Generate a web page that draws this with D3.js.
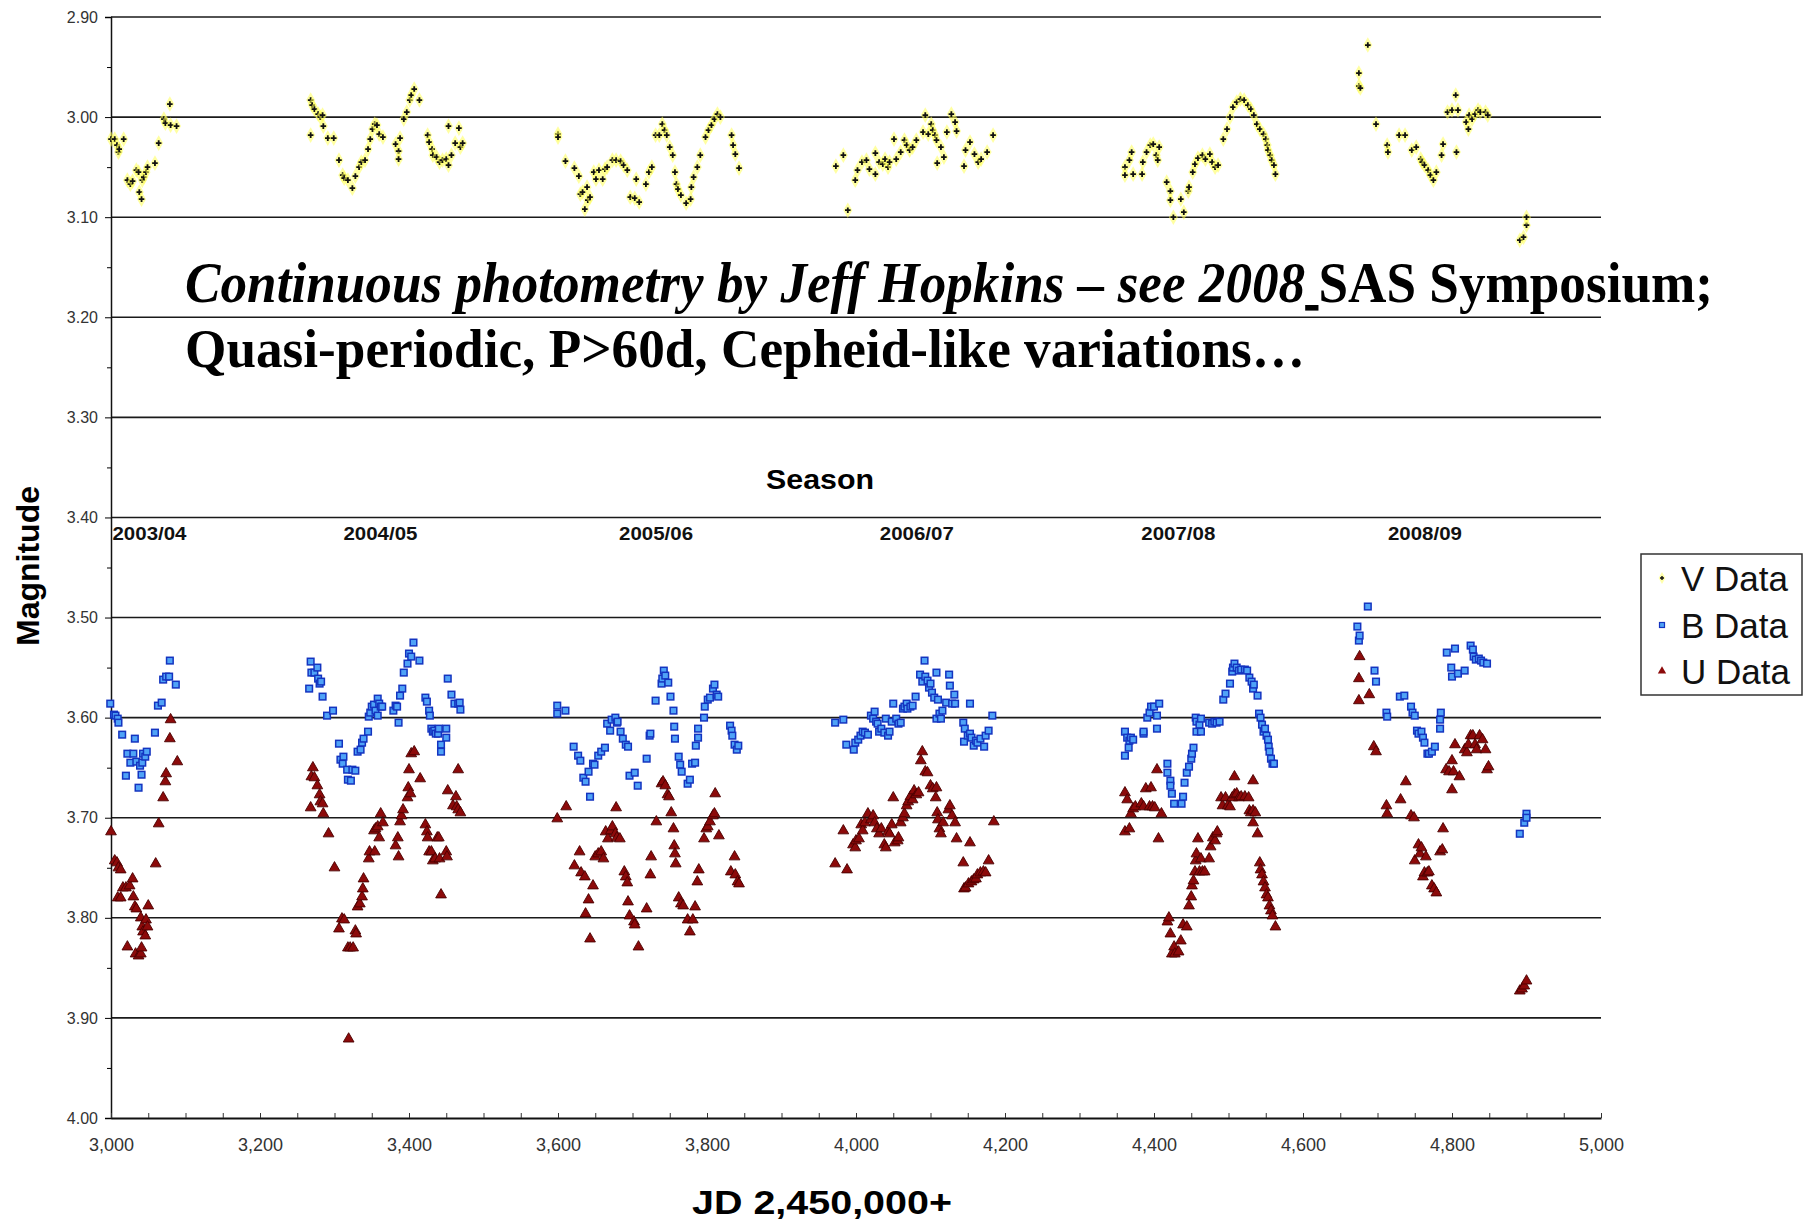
<!DOCTYPE html>
<html>
<head>
<meta charset="utf-8">
<script src="https://cdn.jsdelivr.net/npm/d3@7"></script>
<style>
  body { margin: 0; background: #fff; }
  svg { display: block; }
  .tick text { fill: #333; }
</style>
</head>
<body>
<div class="container"></div>
<script>
// V, B, U photometry: [JD - 2,450,000, magnitude]
const vData = [
  [3000,3.022],[3005,3.022],[3008,3.028],[3010,3.035],[3011,3.032],[3017,3.022],[3022,3.063],[3026,3.067],[3029,3.064],[3034,3.053],[3037,3.055],[3038,3.075],[3041,3.082],[3042,3.063],[3044,3.060],[3047,3.055],[3049,3.050],[3059,3.046],[3064,3.026],[3071,3.002],[3073,3.006],[3079,2.987],[3080,3.008],[3088,3.009],
  [3268,2.983],[3268,3.018],[3270,2.988],[3273,2.992],[3278,2.997],[3281,3.000],[3284,2.998],[3285,3.009],[3291,3.021],[3299,3.021],[3306,3.043],[3311,3.058],[3313,3.061],[3318,3.063],[3324,3.071],[3328,3.059],[3333,3.050],[3336,3.045],[3341,3.043],[3345,3.032],[3348,3.022],[3351,3.012],[3354,3.007],[3357,3.008],[3360,3.017],[3365,3.020],[3382,3.027],[3386,3.034],[3386,3.042],[3388,3.021],[3393,3.002],[3397,2.995],[3401,2.983],[3403,2.978],[3407,2.972],[3414,2.983],[3425,3.018],[3427,3.025],[3431,3.032],[3432,3.038],[3437,3.040],[3441,3.045],[3445,3.043],[3450,3.042],[3453,3.048],[3453,3.009],[3457,3.038],[3462,3.026],[3467,3.011],[3469,3.030],[3472,3.026],
  [3600,3.017],[3600,3.020],[3610,3.044],[3622,3.051],[3628,3.059],[3630,3.077],[3633,3.075],[3636,3.092],[3639,3.070],[3640,3.083],[3643,3.080],[3648,3.055],[3651,3.062],[3655,3.053],[3660,3.062],[3663,3.052],[3666,3.050],[3673,3.043],[3678,3.043],[3684,3.044],[3688,3.048],[3693,3.053],[3697,3.080],[3703,3.081],[3705,3.062],[3709,3.085],[3718,3.067],[3722,3.055],[3726,3.050],[3731,3.018],[3736,3.018],[3740,3.007],[3743,3.013],[3746,3.018],[3750,3.030],[3754,3.038],[3757,3.055],[3759,3.067],[3761,3.072],[3765,3.078],[3772,3.086],[3778,3.082],[3779,3.070],[3782,3.060],[3787,3.050],[3791,3.038],[3798,3.020],[3802,3.013],[3806,3.008],[3810,3.002],[3814,2.997],[3818,3.000],[3833,3.018],[3835,3.028],[3838,3.037],[3843,3.051],
  [3973,3.049],[3983,3.038],[3989,3.093],[3999,3.063],[4002,3.053],[4008,3.045],[4014,3.043],[4018,3.052],[4026,3.036],[4026,3.057],[4031,3.045],[4036,3.047],[4039,3.042],[4043,3.050],[4045,3.045],[4051,3.022],[4054,3.042],[4060,3.035],[4065,3.023],[4068,3.028],[4072,3.033],[4076,3.030],[4081,3.023],[4090,3.015],[4093,2.998],[4097,3.017],[4101,3.007],[4103,3.013],[4106,3.018],[4108,3.023],[4109,3.046],[4114,3.030],[4118,3.040],[4122,3.015],[4128,2.997],[4133,3.005],[4135,3.014],[4145,3.049],[4147,3.033],[4153,3.025],[4159,3.037],[4164,3.045],[4168,3.042],[4176,3.035],[4184,3.018],
  [4361,3.050],[4361,3.058],[4367,3.043],[4370,3.035],[4372,3.057],[4384,3.057],[4385,3.045],[4390,3.035],[4395,3.028],[4399,3.027],[4403,3.038],[4405,3.043],[4407,3.030],[4417,3.065],[4422,3.074],[4422,3.083],[4426,3.100],[4436,3.082],[4440,3.095],[4446,3.074],[4447,3.070],[4452,3.055],[4455,3.047],[4459,3.041],[4465,3.038],[4469,3.042],[4475,3.037],[4478,3.045],[4482,3.050],[4486,3.048],[4493,3.022],[4498,3.012],[4502,3.000],[4506,2.990],[4511,2.985],[4516,2.982],[4521,2.983],[4526,2.988],[4530,2.992],[4534,2.998],[4538,3.007],[4542,3.012],[4547,3.017],[4550,3.022],[4552,3.028],[4553,3.033],[4556,3.038],[4558,3.043],[4561,3.048],[4563,3.057],
  [4675,2.956],[4675,2.969],[4677,2.971],[4687,2.928],[4698,3.007],[4713,3.028],[4714,3.035],[4729,3.018],[4737,3.018],[4746,3.033],[4752,3.030],[4758,3.042],[4760,3.045],[4763,3.048],[4768,3.053],[4771,3.058],[4775,3.063],[4779,3.055],[4786,3.038],[4788,3.027],[4794,2.995],[4800,2.993],[4805,2.978],[4806,3.035],[4808,2.993],[4819,3.005],[4822,3.012],[4823,2.998],[4827,3.002],[4831,2.997],[4835,2.993],[4838,2.995],[4845,2.995],[4848,2.998],[4891,3.123],[4896,3.120],[4900,3.108],[4900,3.100]
];

const bData = [
  [2999,3.586],[3004,3.597],[3006,3.598],[3009,3.601],[3010,3.605],[3015,3.617],[3020,3.658],[3022,3.636],[3026,3.645],[3030,3.636],[3032,3.621],[3034,3.644],[3037,3.670],[3039,3.648],[3041,3.657],[3042,3.645],[3043,3.636],[3046,3.639],[3048,3.634],[3059,3.615],[3063,3.588],[3068,3.585],[3070,3.562],[3074,3.559],[3078,3.559],[3079,3.543],[3087,3.567],
  [3266,3.571],[3268,3.544],[3269,3.555],[3273,3.555],[3277,3.550],[3278,3.561],[3280,3.566],[3282,3.564],[3284,3.579],[3290,3.598],[3298,3.593],[3306,3.626],[3308,3.642],[3311,3.646],[3312,3.639],[3317,3.652],[3318,3.662],[3322,3.663],[3324,3.652],[3328,3.653],[3331,3.634],[3335,3.632],[3337,3.625],[3339,3.621],[3345,3.614],[3346,3.599],[3348,3.595],[3350,3.589],[3353,3.587],[3355,3.593],[3358,3.581],[3358,3.598],[3360,3.586],[3362,3.589],[3364,3.589],[3379,3.593],[3382,3.588],[3384,3.589],[3386,3.605],[3388,3.578],[3391,3.571],[3393,3.555],[3398,3.546],[3400,3.536],[3403,3.539],[3406,3.525],[3414,3.543],[3422,3.580],[3424,3.584],[3427,3.593],[3428,3.598],[3430,3.611],[3432,3.614],[3434,3.613],[3436,3.616],[3439,3.616],[3440,3.611],[3443,3.627],[3443,3.634],[3450,3.611],[3450,3.620],[3452,3.561],[3457,3.577],[3461,3.586],[3466,3.586],[3468,3.585],[3469,3.592],
  [3599,3.588],[3599,3.596],[3610,3.593],[3621,3.629],[3627,3.638],[3630,3.643],[3634,3.660],[3637,3.664],[3641,3.654],[3643,3.679],[3647,3.646],[3649,3.647],[3654,3.638],[3658,3.634],[3663,3.630],[3666,3.606],[3670,3.613],[3672,3.602],[3677,3.600],[3679,3.605],[3680,3.604],[3684,3.614],[3687,3.621],[3691,3.627],[3694,3.629],[3696,3.658],[3703,3.655],[3707,3.668],[3719,3.641],[3723,3.618],[3724,3.616],[3731,3.583],[3739,3.566],[3740,3.561],[3742,3.553],[3744,3.558],[3748,3.565],[3751,3.579],[3755,3.593],[3756,3.609],[3757,3.621],[3762,3.639],[3764,3.647],[3766,3.654],[3774,3.666],[3777,3.662],[3780,3.646],[3784,3.645],[3785,3.628],[3788,3.620],[3788,3.611],[3796,3.600],[3797,3.589],[3801,3.582],[3804,3.580],[3808,3.571],[3810,3.567],[3813,3.577],[3815,3.579],[3831,3.608],[3833,3.613],[3834,3.618],[3837,3.627],[3840,3.632],[3842,3.628],
  [3972,3.605],[3983,3.602],[3987,3.627],[3997,3.632],[3999,3.625],[4003,3.622],[4006,3.618],[4009,3.614],[4012,3.615],[4016,3.617],[4020,3.598],[4023,3.601],[4025,3.594],[4027,3.604],[4029,3.606],[4031,3.614],[4034,3.611],[4038,3.615],[4040,3.601],[4043,3.618],[4045,3.614],[4048,3.604],[4050,3.586],[4054,3.601],[4057,3.606],[4060,3.605],[4063,3.591],[4065,3.589],[4068,3.586],[4069,3.591],[4073,3.589],[4076,3.588],[4080,3.579],[4086,3.557],[4089,3.564],[4092,3.543],[4093,3.559],[4096,3.563],[4098,3.570],[4100,3.566],[4102,3.575],[4105,3.580],[4108,3.555],[4108,3.601],[4110,3.582],[4112,3.596],[4114,3.601],[4116,3.593],[4121,3.585],[4125,3.557],[4126,3.568],[4129,3.586],[4132,3.577],[4133,3.586],[4144,3.605],[4145,3.624],[4146,3.611],[4150,3.618],[4153,3.616],[4153,3.586],[4155,3.620],[4158,3.628],[4161,3.623],[4163,3.625],[4167,3.621],[4172,3.629],[4174,3.618],[4178,3.613],[4183,3.598],
  [4361,3.614],[4361,3.638],[4364,3.620],[4366,3.630],[4367,3.623],[4369,3.620],[4372,3.622],[4386,3.616],[4386,3.614],[4391,3.600],[4394,3.595],[4396,3.589],[4400,3.589],[4404,3.598],[4404,3.611],[4407,3.586],[4418,3.646],[4418,3.655],[4422,3.663],[4422,3.668],[4424,3.676],[4427,3.686],[4437,3.686],[4439,3.679],[4441,3.665],[4444,3.655],[4447,3.649],[4450,3.641],[4451,3.636],[4453,3.630],[4456,3.600],[4457,3.604],[4457,3.614],[4461,3.607],[4463,3.614],[4463,3.601],[4474,3.605],[4478,3.606],[4481,3.604],[4484,3.605],[4488,3.604],[4493,3.582],[4496,3.576],[4502,3.566],[4505,3.554],[4506,3.550],[4508,3.546],[4511,3.550],[4514,3.553],[4517,3.552],[4522,3.552],[4525,3.553],[4528,3.560],[4531,3.564],[4533,3.571],[4534,3.567],[4539,3.578],[4541,3.596],[4543,3.600],[4545,3.607],[4547,3.614],[4549,3.611],[4551,3.618],[4553,3.622],[4554,3.629],[4555,3.634],[4557,3.641],[4559,3.646],[4561,3.646],
  [4673,3.509],[4675,3.523],[4676,3.518],[4687,3.489],[4696,3.553],[4698,3.564],[4712,3.595],[4713,3.599],[4730,3.579],[4736,3.578],[4745,3.589],[4747,3.595],[4750,3.598],[4753,3.613],[4755,3.616],[4759,3.614],[4761,3.620],[4763,3.625],[4767,3.636],[4769,3.636],[4773,3.634],[4777,3.629],[4784,3.602],[4784,3.611],[4785,3.595],[4793,3.535],[4799,3.550],[4800,3.559],[4804,3.531],[4808,3.556],[4817,3.553],[4825,3.528],[4828,3.532],[4829,3.539],[4832,3.542],[4836,3.541],[4839,3.543],[4842,3.545],[4847,3.546],[4891,3.716],[4897,3.705],[4900,3.696],[4900,3.700]
];

const uData = [
  [3000,3.714],[3005,3.743],[3008,3.745],[3009,3.780],[3010,3.750],[3013,3.752],[3013,3.780],[3016,3.770],[3020,3.770],[3022,3.829],[3025,3.768],[3029,3.761],[3030,3.779],[3032,3.789],[3033,3.836],[3034,3.791],[3037,3.838],[3040,3.836],[3040,3.800],[3041,3.830],[3042,3.809],[3043,3.814],[3046,3.818],[3047,3.802],[3049,3.809],[3050,3.788],[3060,3.746],[3064,3.706],[3070,3.680],[3073,3.664],[3074,3.656],[3079,3.621],[3080,3.602],[3089,3.644],
  [3268,3.690],[3269,3.659],[3271,3.650],[3273,3.660],[3277,3.668],[3280,3.677],[3281,3.684],[3284,3.686],[3285,3.696],[3292,3.716],[3300,3.750],[3306,3.811],[3310,3.801],[3313,3.802],[3318,3.830],[3319,3.921],[3321,3.830],[3325,3.830],[3328,3.813],[3329,3.816],[3331,3.789],[3334,3.786],[3337,3.779],[3338,3.771],[3339,3.761],[3346,3.741],[3347,3.734],[3353,3.713],[3354,3.734],[3355,3.711],[3358,3.709],[3360,3.720],[3362,3.696],[3365,3.705],[3382,3.728],[3385,3.720],[3386,3.739],[3388,3.704],[3390,3.698],[3392,3.692],[3398,3.680],[3399,3.670],[3400,3.652],[3402,3.676],[3403,3.636],[3407,3.634],[3415,3.661],[3422,3.707],[3424,3.714],[3425,3.720],[3427,3.734],[3430,3.734],[3432,3.743],[3435,3.741],[3438,3.720],[3440,3.720],[3441,3.741],[3443,3.777],[3450,3.734],[3451,3.739],[3452,3.673],[3459,3.688],[3463,3.679],[3464,3.689],[3466,3.692],[3466,3.652],[3469,3.695],
  [3599,3.701],[3611,3.689],[3622,3.748],[3629,3.734],[3631,3.755],[3636,3.759],[3637,3.796],[3641,3.782],[3643,3.821],[3647,3.768],[3650,3.739],[3654,3.736],[3658,3.734],[3661,3.741],[3664,3.714],[3667,3.721],[3671,3.713],[3673,3.709],[3677,3.716],[3678,3.690],[3679,3.720],[3683,3.721],[3689,3.754],[3691,3.759],[3693,3.765],[3694,3.784],[3696,3.798],[3702,3.804],[3703,3.807],[3708,3.829],[3719,3.791],[3724,3.757],[3725,3.739],[3732,3.704],[3739,3.666],[3741,3.664],[3744,3.668],[3747,3.677],[3749,3.679],[3752,3.695],[3755,3.711],[3756,3.728],[3757,3.736],[3758,3.746],[3762,3.780],[3765,3.786],[3768,3.788],[3774,3.802],[3777,3.814],[3781,3.802],[3784,3.789],[3787,3.764],[3789,3.752],[3796,3.721],[3799,3.711],[3801,3.709],[3804,3.704],[3808,3.698],[3810,3.696],[3811,3.676],[3816,3.718],[3832,3.754],[3837,3.739],[3838,3.757],[3841,3.764],[3843,3.766],
  [3972,3.746],[3983,3.713],[3988,3.752],[3996,3.727],[3999,3.730],[4000,3.723],[4004,3.721],[4007,3.707],[4009,3.713],[4012,3.705],[4016,3.696],[4020,3.702],[4023,3.698],[4025,3.705],[4028,3.711],[4031,3.716],[4034,3.711],[4038,3.727],[4040,3.730],[4043,3.714],[4045,3.716],[4048,3.707],[4050,3.680],[4052,3.725],[4056,3.723],[4057,3.720],[4060,3.705],[4063,3.700],[4065,3.696],[4068,3.688],[4070,3.684],[4073,3.679],[4076,3.682],[4078,3.673],[4081,3.677],[4084,3.675],[4087,3.643],[4089,3.634],[4093,3.654],[4096,3.655],[4100,3.668],[4103,3.671],[4107,3.680],[4108,3.670],[4109,3.695],[4110,3.702],[4112,3.711],[4114,3.716],[4117,3.705],[4124,3.692],[4126,3.688],[4129,3.698],[4133,3.705],[4135,3.721],[4144,3.745],[4145,3.771],[4147,3.770],[4151,3.766],[4153,3.725],[4155,3.764],[4158,3.762],[4161,3.761],[4163,3.757],[4167,3.755],[4171,3.754],[4174,3.755],[4178,3.743],[4185,3.704],
  [4361,3.675],[4361,3.714],[4364,3.682],[4367,3.711],[4369,3.696],[4372,3.691],[4375,3.689],[4383,3.686],[4386,3.689],[4389,3.671],[4394,3.689],[4396,3.670],[4398,3.689],[4401,3.690],[4404,3.652],[4406,3.721],[4410,3.696],[4418,3.804],[4420,3.800],[4422,3.816],[4424,3.836],[4427,3.829],[4428,3.836],[4433,3.834],[4436,3.823],[4439,3.807],[4444,3.809],[4447,3.788],[4450,3.779],[4451,3.768],[4453,3.763],[4455,3.754],[4456,3.743],[4457,3.736],[4459,3.721],[4461,3.754],[4463,3.741],[4465,3.754],[4468,3.754],[4474,3.741],[4476,3.729],[4479,3.720],[4482,3.723],[4484,3.716],[4485,3.714],[4490,3.680],[4492,3.688],[4496,3.680],[4499,3.688],[4502,3.689],[4505,3.680],[4508,3.659],[4508,3.677],[4511,3.676],[4514,3.680],[4517,3.679],[4522,3.679],[4527,3.680],[4528,3.693],[4530,3.695],[4533,3.693],[4533,3.705],[4533,3.663],[4536,3.695],[4539,3.716],[4542,3.745],[4543,3.752],[4545,3.757],[4547,3.764],[4549,3.770],[4551,3.777],[4553,3.780],[4555,3.788],[4557,3.793],[4559,3.798],[4563,3.809],
  [4675,3.561],[4675,3.583],[4676,3.539],[4689,3.577],[4695,3.629],[4698,3.634],[4712,3.688],[4713,3.696],[4731,3.682],[4738,3.664],[4745,3.698],[4749,3.700],[4750,3.743],[4755,3.727],[4757,3.736],[4759,3.730],[4761,3.759],[4763,3.755],[4765,3.739],[4767,3.755],[4769,3.754],[4773,3.768],[4776,3.771],[4779,3.775],[4784,3.734],[4787,3.732],[4788,3.711],[4792,3.652],[4796,3.654],[4800,3.643],[4800,3.672],[4802,3.654],[4804,3.627],[4810,3.659],[4817,3.632],[4820,3.635],[4822,3.627],[4825,3.618],[4828,3.618],[4831,3.627],[4833,3.632],[4837,3.618],[4841,3.622],[4845,3.632],[4847,3.652],[4849,3.649],[4891,3.873],[4894,3.871],[4897,3.868],[4900,3.863]
];

const seasonNames = ['2003/04', '2004/05', '2005/06', '2006/07', '2007/08', '2008/09'];
const seasonJD = [3002, 3312, 3682, 4032, 4383, 4714];
const gridMags = [2.9, 3.0, 3.1, 3.2, 3.3, 3.4, 3.5, 3.6, 3.7, 3.8, 3.9];
const majorMags = [2.9, 3.0, 3.1, 3.2, 3.3, 3.4, 3.5, 3.6, 3.7, 3.8, 3.9, 4.0];
const minorMags = [2.95, 3.05, 3.15, 3.25, 3.35, 3.45, 3.55, 3.65, 3.75, 3.85, 3.95];
const jdTicks = [3000, 3200, 3400, 3600, 3800, 4000, 4200, 4400, 4600, 4800, 5000];
const jdMinor = d3.range(3000, 5001, 50);
const legendNames = ['V Data', 'B Data', 'U Data'];

const w = 1815;
const h = 1220;
const plotL = 111, plotR = 1601, plotT = 17, plotB = 1118;
const sans = "'Liberation Sans', Arial, sans-serif";

const svg = d3.select('.container').append('svg')
  .attr('width', w).attr('height', h)
  .attr('viewBox', `0 0 ${w} ${h}`);

const x = d3.scaleLinear().domain([3000, 5000]).range([plotL, plotR]);
const y = d3.scaleLinear().domain([2.9, 4.0]).range([plotT, plotB]);

// horizontal grid
svg.append('g').selectAll('line').data(gridMags).enter().append('line')
  .attr('x1', plotL).attr('x2', plotR)
  .attr('y1', (d) => y(d)).attr('y2', (d) => y(d))
  .attr('stroke', '#1a1a1a').attr('stroke-width', 1.6);

// y axis
const yAxis = svg.append('g')
  .attr('transform', `translate(${plotL},0)`)
  .call(d3.axisLeft(y).tickValues(majorMags).tickSize(6).tickPadding(7)
    .tickFormat(d3.format('.2f')));
yAxis.select('.domain').attr('stroke', '#111').attr('stroke-width', 1.5);
yAxis.selectAll('text').style('font-family', sans).style('font-size', '16px');

svg.append('g')
  .attr('transform', `translate(${plotL},0)`)
  .call(d3.axisLeft(y).tickValues(minorMags).tickSize(4).tickFormat(''))
  .call((g) => g.select('.domain').remove());

// x axis
const xAxis = svg.append('g')
  .attr('transform', `translate(0,${plotB})`)
  .call(d3.axisBottom(x).tickValues(jdTicks).tickSize(0).tickPadding(20)
    .tickFormat(d3.format(',')));
xAxis.select('.domain').attr('stroke', '#111').attr('stroke-width', 1.8);
xAxis.selectAll('text').style('font-family', sans).style('font-size', '18px');

svg.append('g')
  .attr('transform', `translate(0,${plotB})`)
  .call(d3.axisBottom(x).tickValues(jdMinor).tickSizeInner(-5).tickSizeOuter(0).tickFormat(''))
  .call((g) => g.select('.domain').remove())
  .selectAll('line').attr('stroke', '#333');

// axis titles
svg.append('text')
  .attr('transform', `translate(39,566) rotate(-90)`)
  .attr('text-anchor', 'middle')
  .style('font-family', sans).style('font-weight', 'bold').style('font-size', '31px')
  .attr('textLength', 160).attr('lengthAdjust', 'spacingAndGlyphs')
  .text('Magnitude');

svg.append('text')
  .attr('x', 822).attr('y', 1214)
  .attr('text-anchor', 'middle')
  .style('font-family', sans).style('font-weight', 'bold').style('font-size', '33px')
  .attr('textLength', 260).attr('lengthAdjust', 'spacingAndGlyphs')
  .text('JD 2,450,000+');

svg.append('text')
  .attr('x', 820).attr('y', 489)
  .attr('text-anchor', 'middle')
  .style('font-family', sans).style('font-weight', 'bold').style('font-size', '28px')
  .attr('textLength', 108).attr('lengthAdjust', 'spacingAndGlyphs')
  .text('Season');

svg.append('g').selectAll('text').data(seasonNames).enter().append('text')
  .attr('x', (d, i) => x(seasonJD[i]))
  .attr('y', 540)
  .style('font-family', sans).style('font-weight', 'bold').style('font-size', '18px')
  .attr('textLength', 74).attr('lengthAdjust', 'spacingAndGlyphs')
  .style('fill', '#111')
  .text((d) => d);

// data points
const diamond = d3.symbol().type(d3.symbolDiamond).size(70);
const vg = svg.append('g').selectAll('g').data(vData).enter().append('g')
  .attr('transform', (d) => `translate(${x(d[0])},${y(d[1])})`);
vg.append('path').attr('d', diamond).attr('fill', '#ffff55').attr('opacity', 0.55);
vg.append('path').attr('d', 'M-2.8,0H2.8M0,-2.8V2.8')
  .attr('stroke', '#111').attr('stroke-width', 1.8);

svg.append('g').selectAll('rect').data(bData).enter().append('rect')
  .attr('x', (d) => x(d[0]) - 3.3).attr('y', (d) => y(d[1]) - 3.3)
  .attr('width', 6.6).attr('height', 6.6)
  .attr('fill', '#4fa3f7').attr('stroke', '#1434c0').attr('stroke-width', 1.5);

const tri = d3.symbol().type(d3.symbolTriangle).size(50);
svg.append('g').selectAll('path').data(uData).enter().append('path')
  .attr('d', tri)
  .attr('transform', (d) => `translate(${x(d[0])},${y(d[1])})`)
  .attr('fill', '#8c0a0a').attr('stroke', '#4a0000').attr('stroke-width', 0.9);

// annotation
const serif = "'Liberation Serif', 'Times New Roman', serif";
const note1 = svg.append('text')
  .attr('x', 185).attr('y', 302)
  .style('font-family', serif).style('font-weight', 'bold').style('font-size', '56px')
  .attr('textLength', 1528).attr('lengthAdjust', 'spacingAndGlyphs');
note1.append('tspan').style('font-style', 'italic')
  .text('Continuous photometry by Jeff Hopkins \u2013 see 2008');
note1.append('tspan').style('text-decoration', 'underline').text('\u00a0');
note1.append('tspan').text('SAS Symposium;');

svg.append('text')
  .attr('x', 185).attr('y', 367)
  .style('font-family', serif).style('font-weight', 'bold').style('font-size', '55px')
  .attr('textLength', 1120).attr('lengthAdjust', 'spacingAndGlyphs')
  .text('Quasi-periodic, P>60d, Cepheid-like variations\u2026');

// legend
const lg = svg.append('g');
lg.append('rect')
  .attr('x', 1641).attr('y', 554).attr('width', 161).attr('height', 141)
  .attr('fill', '#fff').attr('stroke', '#333').attr('stroke-width', 1.5);
const rowY = [578, 625, 671];
lg.selectAll('text').data(legendNames).enter().append('text')
  .attr('x', 1681).attr('y', (d, i) => rowY[i] + 13)
  .style('font-family', sans).style('font-size', '35px').style('fill', '#111')
  .text((d) => d);
lg.append('path').attr('d', d3.symbol().type(d3.symbolDiamond).size(40))
  .attr('transform', `translate(1662,${rowY[0]})`).attr('fill', '#ffff55').attr('opacity', 0.5);
lg.append('path').attr('d', 'M-2,0H2M0,-2V2')
  .attr('transform', `translate(1662,${rowY[0]})`).attr('stroke', '#111').attr('stroke-width', 1.4);
lg.append('rect')
  .attr('x', 1659.5).attr('y', rowY[1] - 2.5).attr('width', 5).attr('height', 5)
  .attr('fill', '#4fa3f7').attr('stroke', '#1434c0').attr('stroke-width', 1.2);
lg.append('path').attr('d', d3.symbol().type(d3.symbolTriangle).size(30))
  .attr('transform', `translate(1662,${rowY[2]})`).attr('fill', '#8c0a0a');
</script>
</body>
</html>
